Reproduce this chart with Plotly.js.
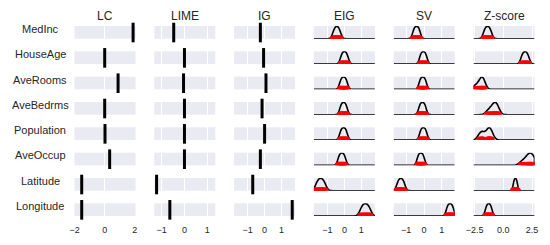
<!DOCTYPE html>
<html><head><meta charset="utf-8">
<script src="https://cdn.plot.ly/plotly-3.0.1.min.js"></script>
<style>html,body{margin:0;padding:0;background:#fff}#chart{width:550px;height:245px}</style>
</head><body><div id="chart"></div>
<script>
// ---------------- data ----------------
const features = ['MedInc','HouseAge','AveRooms','AveBedrms','Population','AveOccup','Latitude','Longitude'];
const methods = ['LC','LIME','IG','EIG','SV','Z-score'];

// point attributions (one value per feature)
const lcValues   = [1.89, 0.00, 0.89, 0.00, 0.02, 0.33, -1.53, -1.53];
const limeValues = [-0.47, 0.00, -0.04, 0.00, 0.00, 0.00, -1.22, -0.64];
const igValues   = [-0.25, -0.06, 0.08, -0.15, 0.00, -0.25, -0.70, 1.63];

// sampled attributions (red dots), one list per feature
const eigSamples = [
  [-0.66,-0.59,-0.53,-0.48,-0.42,-0.37,-0.31,-0.24],
  [-0.20,-0.14,-0.09,-0.03,0.03,0.09,0.14,0.20],
  [-0.25,-0.19,-0.14,-0.08,-0.02,0.04,0.09,0.15],
  [-0.24,-0.19,-0.13,-0.08,-0.02,0.03,0.09,0.14],
  [-0.25,-0.19,-0.14,-0.08,-0.02,0.03,0.09,0.14],
  [-0.35,-0.29,-0.24,-0.18,-0.12,-0.06,-0.01,0.05],
  [-1.66,-1.58,-1.50,-1.44,-1.36,-1.30,-1.22,-1.14],
  [0.97,1.05,1.13,1.20,1.28,1.35,1.43,1.51]
];
const svSamples = [
  [-0.60,-0.55,-0.50,-0.45,-0.39,-0.34,-0.29,-0.24],
  [-0.22,-0.17,-0.12,-0.07,-0.01,0.04,0.09,0.14],
  [-0.25,-0.20,-0.15,-0.10,-0.04,0.01,0.06,0.11],
  [-0.27,-0.22,-0.17,-0.12,-0.06,-0.01,0.04,0.09],
  [-0.22,-0.17,-0.12,-0.07,-0.01,0.04,0.09,0.14],
  [-0.36,-0.31,-0.26,-0.21,-0.15,-0.10,-0.05,0.00],
  [-1.50,-1.44,-1.38,-1.33,-1.27,-1.22,-1.16,-1.10],
  [1.28,1.33,1.38,1.43,1.49,1.54,1.59,1.64]
];
const zSamples = [
  [-1.68,-1.59,-1.50,-1.41,-1.33,-1.24,-1.15,-1.06],
  [1.58,1.67,1.76,1.85,1.93,2.02,2.11,2.20],
  [-2.50,-2.25,-2.06,-1.95,-1.87,-1.80,-1.72,-1.64],
  [-1.40,-1.18,-1.00,-0.88,-0.78,-0.70,-0.62,-0.53,-0.42],
  [-2.05,-1.93,-1.85,-1.76,-1.36,-1.29,-1.23,-1.18,-1.12,-1.04],
  [1.55,1.82,2.03,2.17,2.27,2.36,2.46,2.58,2.70],
  [0.88,0.93,0.98,1.03,1.07,1.12,1.17,1.22],
  [-1.53,-1.45,-1.38,-1.31,-1.23,-1.16,-1.09,-1.01]
];

// axes
const xRanges  = [[-2.01,2.05],[-1.32,1.35],[-1.8,1.8],[-1.8,1.8],[-1.7,1.72],[-2.59,2.71]];
const tickVals = [[-2,0,2],[-1,0,1],[-1,0,1],[-1,0,1],[-1,0,1],[-2.5,0,2.5]];
const tickText = [['−2','0','2'],['−1','0','1'],['−1','0','1'],['−1','0','1'],['−1','0','1'],['−2.5','0.0','2.5']];

// ---------------- layout geometry (pixels) ----------------
const W = 550, H = 245;
const colLeft0 = 74.5, colPitch = 79.8, colW = 61;
const rowTop0 = 26, rowPitch = 25.33, rowH = 12.7;
const FONT = 'Liberation Sans, Arial, sans-serif';
const TXT = '#262626';

const pointCols = [lcValues, limeValues, igValues];
const sampleCols = [eigSamples, svSamples, zSamples];

const traces = [];
const layout = {
  width: W, height: H,
  margin: {l:0, r:0, t:0, b:0},
  paper_bgcolor: '#ffffff',
  plot_bgcolor: '#EAEAF2',
  showlegend: false,
  font: {family: FONT, color: TXT},
  annotations: []
};

for (let r = 0; r < features.length; r++) {
  for (let c = 0; c < methods.length; c++) {
    const idx = r * methods.length + c + 1;
    const sfx = idx === 1 ? '' : String(idx);
    const left = colLeft0 + c * colPitch;
    const top = rowTop0 + r * rowPitch;
    layout['xaxis' + sfx] = {
      domain: [left / W, (left + colW) / W],
      anchor: 'y' + sfx,
      range: xRanges[c],
      tickmode: 'array', tickvals: tickVals[c], ticktext: tickText[c],
      showticklabels: r === features.length - 1,
      ticks: 'outside', ticklen: 5, tickcolor: 'rgba(0,0,0,0)',
      tickfont: {size: 9, color: TXT, family: FONT},
      showgrid: true, gridcolor: '#ffffff', gridwidth: 1,
      zeroline: false, showline: false, fixedrange: true
    };
    layout['yaxis' + sfx] = {
      domain: [1 - (top + rowH) / H, 1 - top / H],
      anchor: 'x' + sfx,
      type: 'linear',
      range: [0, 1.03],
      showticklabels: false, ticks: '',
      showgrid: false, zeroline: false, showline: false, fixedrange: true
    };
    if (c < 3) {
      traces.push({
        type: 'scatter', mode: 'markers',
        x: [pointCols[c][r]], y: [0.5],
        xaxis: 'x' + sfx, yaxis: 'y' + sfx,
        cliponaxis: false,
        marker: {symbol: 'line-ns', size: 14, line: {color: '#000000', width: 3}},
        hoverinfo: 'x'
      });
    } else {
      traces.push({
        type: 'violin', orientation: 'h',
        x: sampleCols[c - 3][r], y0: 0,
        xaxis: 'x' + sfx, yaxis: 'y' + sfx,
        side: 'positive', width: 2, scalemode: 'width',
        spanmode: 'manual', span: xRanges[c],
        points: 'all', pointpos: 0, jitter: 0,
        marker: {color: '#ff0000', size: 7},
        line: {color: '#000000', width: 1.6},
        fillcolor: 'rgba(0,0,0,0)',
        box: {visible: false}, meanline: {visible: false},
        hoverinfo: 'x'
      });
    }
  }
}

// column titles
for (let c = 0; c < methods.length; c++) {
  const left = colLeft0 + c * colPitch;
  layout.annotations.push({
    xref: 'paper', yref: 'paper',
    x: (left + colW / 2) / W, y: 1 - 16 / H,
    xanchor: 'center', yanchor: 'middle',
    text: methods[c], showarrow: false,
    font: {size: 12, color: TXT, family: FONT}
  });
}
// row labels
for (let r = 0; r < features.length; r++) {
  const top = rowTop0 + r * rowPitch;
  layout.annotations.push({
    xref: 'paper', yref: 'paper',
    x: 40 / W, y: 1 - (top + rowH / 2 - 3.5) / H,
    xanchor: 'center', yanchor: 'middle',
    text: features[r], showarrow: false,
    font: {size: 11, color: TXT, family: FONT}
  });
}

Plotly.newPlot('chart', traces, layout, {displayModeBar: false, staticPlot: true});
</script>
</body></html>
